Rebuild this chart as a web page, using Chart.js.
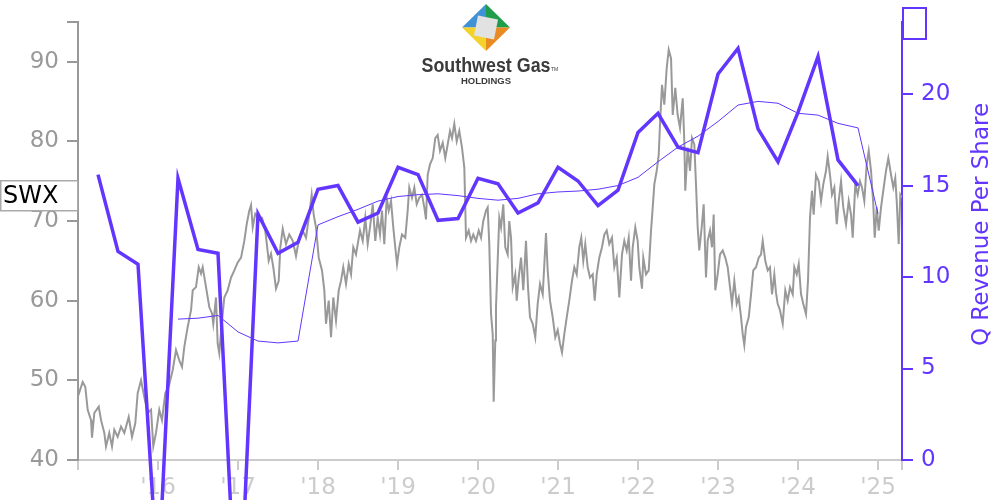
<!DOCTYPE html>
<html>
<head>
<meta charset="utf-8">
<script src="https://cdn.jsdelivr.net/npm/chart.js@4.4.1/dist/chart.umd.min.js"></script>
<style>
  html, body { margin: 0; padding: 0; background: #fff; }
  canvas { display: block; }
</style>
</head>
<body>
<canvas id="chart" width="1000" height="500"></canvas>
<script>
// daily-ish closing price (decimal years)
const priceYears = [
  2015.000, 2015.059, 2015.091, 2015.121, 2015.163, 2015.175, 2015.204, 2015.259, 2015.288, 2015.329,
  2015.350, 2015.391, 2015.425, 2015.454, 2015.496, 2015.538, 2015.579, 2015.634, 2015.675, 2015.716,
  2015.746, 2015.788, 2015.829, 2015.871, 2015.913, 2015.941, 2015.975, 2016.016, 2016.050, 2016.091,
  2016.134, 2016.184, 2016.225, 2016.266, 2016.300, 2016.329, 2016.371, 2016.413, 2016.434, 2016.475,
  2016.509, 2016.538, 2016.559, 2016.600, 2016.641, 2016.675, 2016.691, 2016.725, 2016.746, 2016.766,
  2016.800, 2016.829, 2016.871, 2016.913, 2016.954, 2016.996, 2017.038, 2017.079, 2017.109, 2017.141,
  2017.163, 2017.184, 2017.216, 2017.259, 2017.300, 2017.341, 2017.384, 2017.413, 2017.441, 2017.475,
  2017.509, 2017.529, 2017.559, 2017.600, 2017.641, 2017.684, 2017.725, 2017.766, 2017.809, 2017.850,
  2017.891, 2017.921, 2017.946, 2017.975, 2018.009, 2018.050, 2018.079, 2018.100, 2018.134, 2018.163,
  2018.191, 2018.225, 2018.259, 2018.288, 2018.316, 2018.350, 2018.384, 2018.413, 2018.441, 2018.475,
  2018.525, 2018.559, 2018.591, 2018.621, 2018.650, 2018.684, 2018.716, 2018.746, 2018.775, 2018.800,
  2018.829, 2018.859, 2018.884, 2018.913, 2018.941, 2018.966, 2018.988, 2019.016, 2019.050, 2019.091,
  2019.121, 2019.141, 2019.175, 2019.204, 2019.234, 2019.266, 2019.300, 2019.329, 2019.350, 2019.371,
  2019.400, 2019.434, 2019.466, 2019.496, 2019.525, 2019.559, 2019.591, 2019.621, 2019.650, 2019.675,
  2019.704, 2019.734, 2019.766, 2019.800, 2019.829, 2019.850, 2019.884, 2019.913, 2019.941, 2019.975,
  2020.009, 2020.038, 2020.066, 2020.100, 2020.121, 2020.141, 2020.163, 2020.184, 2020.196, 2020.216,
  2020.225, 2020.246, 2020.266, 2020.288, 2020.316, 2020.341, 2020.371, 2020.391, 2020.413, 2020.434,
  2020.466, 2020.484, 2020.509, 2020.538, 2020.566, 2020.600, 2020.625, 2020.650, 2020.684, 2020.716,
  2020.746, 2020.775, 2020.809, 2020.850, 2020.871, 2020.900, 2020.934, 2020.966, 2020.996, 2021.025,
  2021.050, 2021.079, 2021.109, 2021.141, 2021.175, 2021.204, 2021.234, 2021.266, 2021.291, 2021.316,
  2021.341, 2021.371, 2021.400, 2021.434, 2021.459, 2021.484, 2021.516, 2021.550, 2021.579, 2021.609,
  2021.641, 2021.675, 2021.704, 2021.734, 2021.766, 2021.800, 2021.829, 2021.859, 2021.884, 2021.913,
  2021.934, 2021.966, 2021.996, 2022.016, 2022.050, 2022.066, 2022.100, 2022.134, 2022.163, 2022.184,
  2022.204, 2022.234, 2022.259, 2022.275, 2022.300, 2022.329, 2022.359, 2022.384, 2022.413, 2022.434,
  2022.466, 2022.496, 2022.525, 2022.559, 2022.579, 2022.591, 2022.621, 2022.650, 2022.675, 2022.704,
  2022.725, 2022.746, 2022.766, 2022.796, 2022.821, 2022.850, 2022.871, 2022.900, 2022.925, 2022.946,
  2022.966, 2022.996, 2023.025, 2023.059, 2023.091, 2023.121, 2023.150, 2023.175, 2023.204, 2023.234,
  2023.259, 2023.288, 2023.309, 2023.329, 2023.350, 2023.384, 2023.413, 2023.441, 2023.475, 2023.509,
  2023.538, 2023.559, 2023.591, 2023.621, 2023.650, 2023.675, 2023.704, 2023.725, 2023.746, 2023.775,
  2023.809, 2023.841, 2023.871, 2023.900, 2023.934, 2023.954, 2023.984, 2024.009, 2024.038, 2024.066,
  2024.100, 2024.125, 2024.150, 2024.175, 2024.196, 2024.225, 2024.259, 2024.288, 2024.316, 2024.350,
  2024.371, 2024.400, 2024.425, 2024.454, 2024.484, 2024.509, 2024.538, 2024.566, 2024.600, 2024.634,
  2024.663, 2024.684, 2024.716, 2024.746, 2024.775, 2024.800, 2024.829, 2024.859, 2024.884, 2024.913,
  2024.941, 2024.959, 2024.984, 2025.009, 2025.038, 2025.066, 2025.100, 2025.129, 2025.163, 2025.191,
  2025.216, 2025.234, 2025.259, 2025.279, 2025.300
];
const priceClose = [
  48.0, 49.8, 49.2, 46.3, 45.0, 42.8, 45.9, 46.7, 45.0, 43.4,
  41.7, 43.4, 41.7, 43.8, 42.9, 44.2, 43.4, 45.4, 42.9, 44.6,
  48.4, 50.0, 47.9, 45.9, 46.3, 41.7, 43.4, 46.3, 45.0, 48.4,
  49.2, 51.3, 53.8, 52.5, 51.7, 54.2, 56.7, 58.8, 61.3, 61.7,
  64.2, 63.4, 64.2, 61.7, 59.2, 58.4, 57.1, 60.4, 54.6, 53.4,
  57.5, 60.4, 61.3, 62.9, 63.8, 64.8, 65.4, 67.5, 69.6, 71.3,
  72.0, 69.2, 70.9, 70.4, 70.4, 68.8, 65.0, 65.9, 64.2, 61.5,
  62.5, 66.7, 69.0, 67.1, 68.3, 67.5, 65.6, 67.9, 68.8, 67.9,
  70.8, 73.3, 70.8, 69.2, 65.4, 63.8, 61.3, 57.1, 60.0, 55.4,
  60.4, 57.5, 61.3, 62.5, 64.2, 62.1, 64.6, 63.3, 66.7, 65.8,
  68.8, 67.5, 70.4, 67.1, 69.2, 72.1, 67.5, 70.4, 68.3, 71.3,
  67.1, 72.9, 71.3, 72.5, 69.2, 66.7, 64.6, 66.7, 68.3, 67.9,
  71.3, 74.2, 72.9, 74.2, 72.1, 72.9, 73.3, 71.7, 70.2, 75.8,
  77.1, 77.9, 80.4, 80.8, 78.8, 79.8, 77.9, 79.6, 81.3, 80.4,
  82.2, 80.0, 81.3, 79.2, 76.7, 67.9, 68.8, 67.5, 68.3, 67.5,
  68.8, 67.9, 70.0, 71.3, 71.7, 67.1, 58.3, 55.8, 47.3, 55.0,
  59.2, 65.0, 70.4, 69.2, 72.1, 66.7, 65.8, 70.0, 67.9, 61.7,
  63.3, 60.0, 62.9, 65.4, 61.3, 67.5, 61.7, 57.9, 57.1, 55.4,
  59.6, 62.1, 60.8, 68.5, 63.8, 60.0, 57.9, 55.4, 56.3, 54.6,
  53.5, 55.8, 57.9, 60.0, 62.5, 64.2, 63.3, 66.7, 67.9, 65.0,
  67.1, 64.2, 62.9, 63.3, 60.0, 63.3, 65.4, 66.7, 68.3, 68.8,
  67.1, 67.9, 64.2, 65.4, 60.4, 65.8, 67.5, 66.3, 67.9, 62.5,
  66.7, 69.2, 67.5, 64.2, 61.5, 65.4, 63.3, 63.8, 68.8, 71.7,
  74.6, 76.3, 78.3, 82.1, 87.1, 84.6, 89.2, 91.5, 90.4, 83.3,
  86.7, 83.3, 81.7, 85.4, 80.0, 73.8, 79.2, 76.3, 80.4, 79.6,
  74.6, 69.2, 66.3, 69.2, 72.1, 62.9, 67.5, 68.8, 66.7, 70.8,
  61.3, 63.3, 65.8, 66.3, 65.4, 64.2, 61.7, 59.6, 62.5, 59.6,
  60.4, 57.9, 55.8, 54.4, 56.7, 57.9, 60.8, 63.8, 64.2, 65.4,
  65.8, 67.5, 65.0, 63.8, 64.2, 60.8, 63.3, 61.0, 59.6, 58.8,
  57.1, 61.3, 60.0, 61.7, 60.8, 64.2, 63.3, 64.6, 60.8, 59.6,
  58.3, 62.5, 70.4, 73.8, 70.8, 75.8, 75.0, 72.5, 74.6, 76.3,
  78.1, 75.8, 73.3, 74.2, 69.6, 72.5, 75.0, 71.7, 69.6, 72.5,
  70.8, 67.9, 74.6, 73.3, 75.0, 74.2, 72.5, 77.1, 78.8, 76.3,
  72.1, 67.9, 71.7, 68.8, 71.7, 73.8, 76.3, 77.9, 75.8, 74.2,
  75.4, 72.5, 67.1, 73.3, 72.9
];

// quarterly revenue per share, plotted at quarter end
const quarters = [
  '2015Q1', '2015Q2', '2015Q3', '2015Q4', '2016Q1', '2016Q2', '2016Q3', '2016Q4',
  '2017Q1', '2017Q2', '2017Q3', '2017Q4', '2018Q1', '2018Q2', '2018Q3', '2018Q4',
  '2019Q1', '2019Q2', '2019Q3', '2019Q4', '2020Q1', '2020Q2', '2020Q3', '2020Q4',
  '2021Q1', '2021Q2', '2021Q3', '2021Q4', '2022Q1', '2022Q2', '2022Q3', '2022Q4',
  '2023Q1', '2023Q2', '2023Q3', '2023Q4', '2024Q1', '2024Q2', '2024Q3', '2024Q4'
];
const revPerShare = [
  15.6, 11.4, 10.7, -6.8, 15.4, 11.5, 11.3, -10.6,
  13.45, 11.3, 11.9, 14.8, 15.0, 13.0, 13.5, 16.0,
  15.6, 13.1, 13.2, 15.4, 15.1, 13.5, 14.05, 16.0,
  15.25, 13.9, 14.75, 17.9, 18.95, 17.1, 16.8, 21.1,
  22.5, 18.1, 16.3, 19.0, 22.05, 16.4, 15.0, null
];
const revAvg4Q = [
  null, null, null, null, 7.7, 7.75, 7.9, 7.0,
  6.5, 6.4, 6.5, 12.85, 13.3, 13.7, 14.15, 14.4,
  14.5, 14.55, 14.45, 14.3, 14.2, 14.3, 14.55, 14.65,
  14.7, 14.8, 15.0, 15.45, 16.3, 17.1, 17.7, 18.5,
  19.4, 19.6, 19.5, 18.95, 18.85, 18.4, 18.15, 13.45
];

const yearTicks = [2015, 2016, 2017, 2018, 2019, 2020, 2021, 2022, 2023, 2024, 2025];
const priceTicks = [40, 50, 60, 70, 80, 90, 95];
const revTicks = [0, 5, 10, 15, 20];

const X_MIN = 2015, X_MAX = 2025.3;
const PRICE_MIN = 40, PRICE_MAX = 95;
const REV_MIN = 0, REV_MAX = 23.95;

const PURPLE = '#6236ff';
const GRAY = '#999999';
const LIGHT = '#cccccc';
const FONT = '"DejaVu Sans", sans-serif';

function quarterEnd(q) {
  return parseInt(q.slice(0, 4)) + parseInt(q.slice(5)) * 0.25;
}

const pricePoints = priceYears.map((x, i) => ({ x, y: priceClose[i] }));
const revPoints = quarters.map((q, i) => ({ x: quarterEnd(q), y: revPerShare[i] }));
const avgPoints = quarters.map((q, i) => ({ x: quarterEnd(q), y: revAvg4Q[i] }));

function drawLogo(c) {
  const cx = 486, cy = 27.5, w = 24, h = 23.5;
  const T = [cx, cy - h], R = [cx + w, cy], B = [cx, cy + h], L = [cx - w, cy], C = [cx, cy];
  const tri = (a, b, d, col) => {
    c.beginPath(); c.moveTo(a[0], a[1]); c.lineTo(b[0], b[1]); c.lineTo(d[0], d[1]);
    c.closePath(); c.fillStyle = col; c.fill();
  };
  tri(L, T, C, '#3f92d6');
  tri(T, R, C, '#1f9d4a');
  tri(R, B, C, '#ea8a23');
  tri(B, L, C, '#f3d22c');
  c.beginPath();
  c.moveTo(cx - 8, cy - 12); c.lineTo(cx + 12, cy - 8);
  c.lineTo(cx + 8, cy + 12); c.lineTo(cx - 12, cy + 8);
  c.closePath(); c.fillStyle = '#e2e2e2'; c.fill();

  c.fillStyle = '#3b3b3b';
  c.textAlign = 'center';
  c.textBaseline = 'alphabetic';
  c.font = 'bold 20px "Liberation Sans", sans-serif';
  c.fillText('Southwest Gas', 486, 72, 129);
  c.font = 'bold 9.5px "Liberation Sans", sans-serif';
  c.fillText('HOLDINGS', 486, 83.5);
  c.font = '5px "Liberation Sans", sans-serif';
  c.textAlign = 'left';
  c.fillText('TM', 551, 71);
}

const overlay = {
  id: 'overlay',
  afterDraw(chart) {
    const c = chart.ctx;
    c.save();
    // ticker tag on the left
    c.fillStyle = '#fff';
    c.fillRect(0, 180, 78, 31);
    c.strokeStyle = '#aaaaaa';
    c.lineWidth = 1.5;
    c.strokeRect(0.75, 180.75, 77, 30);
    c.fillStyle = '#000';
    c.font = '24px ' + FONT;
    c.textAlign = 'left';
    c.textBaseline = 'alphabetic';
    c.fillText('SWX', 3, 203);

    // empty box at top of right axis
    c.fillStyle = '#fff';
    c.fillRect(902, 7, 24, 32);
    c.strokeStyle = PURPLE;
    c.lineWidth = 2;
    c.strokeRect(903, 8, 23, 31);

    // right axis title, reading bottom to top
    c.save();
    c.translate(988, 224.5);
    c.rotate(-Math.PI / 2);
    c.fillStyle = PURPLE;
    c.font = '23px ' + FONT;
    c.textAlign = 'center';
    c.fillText('Q Revenue Per Share', 0, 0);
    c.restore();

    drawLogo(c);
    c.restore();
  }
};

new Chart(document.getElementById('chart').getContext('2d'), {
  type: 'line',
  data: {
    datasets: [
      {
        label: 'Q Revenue Per Share',
        data: revPoints,
        yAxisID: 'yR',
        borderColor: PURPLE,
        borderWidth: 3.5,
        pointRadius: 0,
        clip: false,
        order: 0
      },
      {
        label: 'Trailing 4Q average',
        data: avgPoints,
        yAxisID: 'yR',
        borderColor: PURPLE,
        borderWidth: 1,
        pointRadius: 0,
        order: 1
      },
      {
        label: 'SWX',
        data: pricePoints,
        yAxisID: 'yL',
        borderColor: GRAY,
        borderWidth: 2,
        pointRadius: 0,
        order: 2
      }
    ]
  },
  options: {
    responsive: false,
    animation: false,
    devicePixelRatio: 1,
    layout: { padding: { top: 20, left: 0, right: 0, bottom: 0 } },
    plugins: { legend: { display: false }, tooltip: { enabled: false } },
    scales: {
      x: {
        type: 'linear',
        min: X_MIN,
        max: X_MAX,
        afterBuildTicks: s => { s.ticks = yearTicks.concat([X_MAX]).map(v => ({ value: v })); },
        afterFit: s => { s.height = 40; },
        grid: { drawOnChartArea: false, drawTicks: true, tickLength: 10, color: LIGHT, lineWidth: 2 },
        border: { color: LIGHT, width: 2 },
        ticks: {
          color: LIGHT,
          font: { family: FONT, size: 23 },
          padding: 4,
          maxRotation: 0,
          autoSkip: false,
          callback: v => (Number.isInteger(v) && v > X_MIN) ? "'" + String(v).slice(2) : ''
        }
      },
      yL: {
        type: 'linear',
        position: 'left',
        min: PRICE_MIN,
        max: PRICE_MAX,
        afterBuildTicks: s => { s.ticks = priceTicks.map(v => ({ value: v })); },
        afterFit: s => { s.width = 78; },
        grid: { drawOnChartArea: false, drawTicks: true, tickLength: 11, color: GRAY, lineWidth: 2 },
        border: { color: GRAY, width: 2 },
        ticks: {
          color: GRAY,
          font: { family: FONT, size: 23 },
          padding: 8,
          callback: v => v % 10 === 0 ? v : ''
        }
      },
      yR: {
        type: 'linear',
        position: 'right',
        min: REV_MIN,
        max: REV_MAX,
        afterBuildTicks: s => { s.ticks = revTicks.concat([REV_MAX]).map(v => ({ value: v })); },
        afterFit: s => { s.width = 98; },
        grid: { drawOnChartArea: false, drawTicks: true, tickLength: 11, color: PURPLE, lineWidth: 2 },
        border: { color: PURPLE, width: 2 },
        ticks: {
          color: PURPLE,
          font: { family: FONT, size: 23 },
          padding: 8,
          callback: v => revTicks.includes(v) ? v : ''
        }
      }
    }
  },
  plugins: [overlay]
});
</script>
</body>
</html>
